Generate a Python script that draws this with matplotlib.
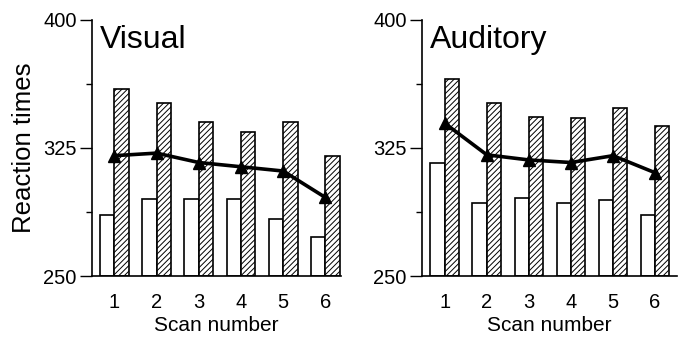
import matplotlib
matplotlib.use("Agg")
import matplotlib.pyplot as plt
import numpy as np

plt.rcParams['font.family'] = ['Liberation Sans', 'DejaVu Sans']
plt.rcParams['hatch.linewidth'] = 0.7

scans = [1, 2, 3, 4, 5, 6]

visual_open = [285.5, 295, 295, 295, 283.5, 273]
visual_hatched = [359.5, 351.5, 340, 334.5, 340.5, 320.5]
visual_line = [320.5, 322, 316.5, 314, 311.5, 296]

auditory_open = [316, 292.5, 295.5, 293, 294.5, 286]
auditory_hatched = [365.5, 351.5, 343, 342.5, 348.5, 338]
auditory_line = [339.5, 321, 318, 316.5, 320.5, 310.5]

fig = plt.figure(figsize=(6.82, 3.40), dpi=100)
ax1 = fig.add_axes([92/682, 64/340, (341-92)/682, 256/340])
ax2 = fig.add_axes([422/682, 64/340, (677-422)/682, 256/340])

w = 0.34

def draw(ax, open_v, hatch_v, line_v, title, xlim, ylabel=False):
    x = np.array(scans, dtype=float)
    base = 250
    ax.bar(x - w/2, np.array(open_v) - base, width=w, bottom=base,
           color='white', edgecolor='black', linewidth=1.2, zorder=2)
    ax.bar(x + w/2, np.array(hatch_v) - base, width=w, bottom=base,
           color='white', edgecolor='black', linewidth=1.2, hatch='//////', zorder=2)
    ax.plot(x, line_v, color='black', linewidth=2.6, marker='^', markersize=9, zorder=3)
    ax.set_ylim(250, 400)
    ax.set_xlim(*xlim)
    ax.set_yticks([250, 325, 400])
    ax.set_yticks([287.5, 362.5], minor=True)
    ax.set_xticks(scans)
    ax.tick_params(axis='y', which='major', length=9, width=1.0, labelsize=14.5, pad=2)
    ax.tick_params(axis='y', which='minor', length=4, width=1.0)
    ax.tick_params(axis='x', length=0, labelsize=14.5, pad=12)
    for s in ['top', 'right']:
        ax.spines[s].set_visible(False)
    ax.spines['left'].set_linewidth(1.2)
    ax.spines['bottom'].set_linewidth(1.2)
    ax.set_xlabel('Scan number', fontsize=15, labelpad=3)
    if ylabel:
        ax.set_ylabel('Reaction times', fontsize=18.5, labelpad=5)
    ax.text(0.03, 0.98, title, transform=ax.transAxes, fontsize=23,
            va='top', ha='left')

draw(ax1, visual_open, visual_hatched, visual_line, 'Visual', (0.47, 6.37), ylabel=True)
draw(ax2, auditory_open, auditory_hatched, auditory_line, 'Auditory', (0.46, 6.52))

fig.savefig('out.png', dpi=100)
